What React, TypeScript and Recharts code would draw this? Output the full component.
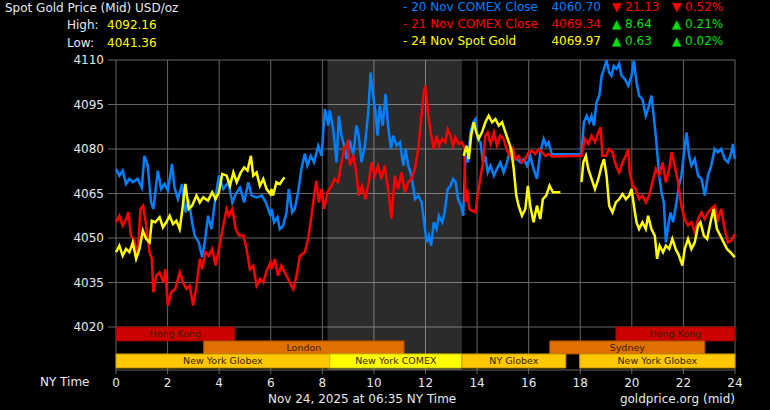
import React from 'react';
import {
  LineChart,
  Line,
  XAxis,
  YAxis,
  CartesianGrid,
  ReferenceArea,
} from 'recharts';

// [NY hour, price] pairs
const nov20Comex: [number, number][] = [
  [0, 4073.3], [0.13, 4071], [0.26, 4072.7], [0.39, 4068.2], [0.52, 4069.9], [0.65, 4068.8], [0.84, 4070], [1.0, 4067],
  [1.1, 4077.7], [1.23, 4074.4], [1.36, 4062], [1.45, 4059.8], [1.62, 4072.7], [1.75, 4066.5], [1.88, 4068.2], [2.01, 4066],
  [2.17, 4075], [2.27, 4067], [2.4, 4063.1], [2.56, 4068.2], [2.69, 4058.6], [2.82, 4063], [2.95, 4055.3], [3.05, 4050.8],
  [3.21, 4048.5], [3.34, 4043.5], [3.44, 4048.5], [3.57, 4057.5], [3.7, 4053], [3.83, 4062], [3.99, 4071], [4.16, 4066.5],
  [4.35, 4068.8], [4.51, 4062], [4.64, 4064.8], [4.81, 4067], [4.97, 4062], [5.13, 4068.8], [5.26, 4064.3], [5.45, 4063.7],
  [5.65, 4064.3], [5.81, 4062], [5.99, 4057.5], [6.03, 4059.8], [6.13, 4055.3], [6.26, 4057], [6.35, 4053], [6.48, 4054.2],
  [6.61, 4058.6], [6.7, 4066.5], [6.83, 4058.6], [6.93, 4059.8], [7.06, 4065.4], [7.19, 4073.3], [7.32, 4078.4], [7.42, 4074.4],
  [7.55, 4077.7], [7.68, 4075.5], [7.84, 4081.1], [7.97, 4077.7], [8.1, 4093.5], [8.23, 4087.9], [8.29, 4093], [8.42, 4086.7],
  [8.55, 4075.5], [8.64, 4091.2], [8.74, 4084.5], [8.85, 4081.1], [8.94, 4076.6], [9.07, 4082.8], [9.2, 4077.7], [9.32, 4087.9],
  [9.41, 4084.5], [9.52, 4075.5], [9.65, 4081.1], [9.78, 4092.4], [9.87, 4105.8], [9.97, 4098], [10.06, 4092.4], [10.14, 4084.5],
  [10.23, 4094.6], [10.34, 4087.9], [10.45, 4098.5], [10.55, 4087.9], [10.66, 4080], [10.75, 4084.5], [10.88, 4081.1], [11.01, 4082.3],
  [11.14, 4074.4], [11.23, 4080], [11.33, 4074.4], [11.46, 4071], [11.59, 4063.1], [11.72, 4064.3], [11.85, 4062], [11.98, 4053],
  [12.04, 4048.5], [12.13, 4050.8], [12.22, 4047.4], [12.32, 4055.3], [12.43, 4053], [12.52, 4057.5], [12.65, 4055.3], [12.74, 4058.6],
  [12.86, 4066.5], [12.97, 4067.6], [13.07, 4069.9], [13.17, 4068.8], [13.26, 4063.1], [13.38, 4060.9], [13.46, 4057.5], [13.55, 4077.7],
  [13.64, 4075.5], [13.74, 4085.6], [13.85, 4089], [13.94, 4090.1], [14.03, 4083.4], [14.13, 4082.3], [14.23, 4075.5], [14.32, 4077.7],
  [14.41, 4072.1], [14.52, 4074.4], [14.65, 4071], [14.77, 4073.3], [14.9, 4075.5], [15.03, 4072.1], [15.16, 4075.5], [15.29, 4080],
  [15.42, 4077.7], [15.55, 4076.6], [15.68, 4075.5], [15.81, 4076.6], [15.94, 4074.4], [16.06, 4077.7], [16.19, 4073.3], [16.32, 4069.9],
  [16.45, 4078.9], [16.58, 4083.4], [16.68, 4081.1], [16.77, 4082.3], [16.9, 4078.2], [18.05, 4078.3], [18.14, 4089], [18.25, 4091.2],
  [18.35, 4089], [18.44, 4091.2], [18.53, 4087.9], [18.63, 4095.7], [18.74, 4098], [18.83, 4104.7], [18.92, 4107], [19.02, 4109.8],
  [19.12, 4105.8], [19.21, 4104.7], [19.3, 4108], [19.41, 4107], [19.51, 4108.7], [19.6, 4104.7], [19.73, 4103.6], [19.86, 4101.3],
  [19.99, 4104.7], [20.08, 4109.8], [20.18, 4102.5], [20.28, 4098], [20.41, 4096.8], [20.54, 4091.2], [20.63, 4093.5], [20.76, 4098],
  [20.85, 4091.2], [20.95, 4082.3], [21.06, 4071], [21.15, 4065.4], [21.24, 4062], [21.32, 4048.5], [21.41, 4054.2], [21.5, 4058.6],
  [21.6, 4055.3], [21.73, 4062], [21.83, 4067.6], [21.92, 4071], [22.01, 4077.7], [22.12, 4085.6], [22.22, 4077.7], [22.31, 4074.4],
  [22.44, 4076.6], [22.57, 4071], [22.7, 4069.9], [22.83, 4064.3], [22.95, 4071], [23.08, 4074.4], [23.21, 4080], [23.34, 4078.9],
  [23.47, 4080], [23.6, 4076.6], [23.73, 4075.5], [23.86, 4078.9], [23.92, 4081.7], [23.99, 4076.6],
];

const nov21Comex: [number, number][] = [
  [0, 4055.3], [0.13, 4057.5], [0.26, 4054.2], [0.39, 4056.4], [0.48, 4058.7], [0.58, 4050.8], [0.71, 4049.1], [0.84, 4044],
  [0.95, 4059.8], [1.05, 4060.9], [1.17, 4054.2], [1.3, 4045.2], [1.39, 4043], [1.45, 4031.7], [1.56, 4037.3], [1.69, 4038.4],
  [1.84, 4035], [1.91, 4039.5], [2.01, 4027.2], [2.14, 4031.7], [2.3, 4032.8], [2.47, 4038.4], [2.6, 4035], [2.73, 4032.8],
  [2.86, 4033.9], [2.99, 4027.2], [3.12, 4033.9], [3.25, 4043], [3.34, 4039.5], [3.47, 4045.2], [3.6, 4044], [3.73, 4046.3],
  [3.86, 4040.7], [3.99, 4046.3], [4.16, 4054.2], [4.29, 4059.8], [4.38, 4057.5], [4.51, 4059.8], [4.64, 4053], [4.77, 4050.8],
  [4.94, 4050.8], [5.06, 4046.3], [5.19, 4039.5], [5.32, 4040.6], [5.45, 4033.9], [5.58, 4036.2], [5.71, 4035], [5.84, 4039],
  [5.99, 4041.8], [6.03, 4039.5], [6.16, 4042.9], [6.28, 4037.3], [6.41, 4040.7], [6.54, 4038.4], [6.67, 4036.2], [6.87, 4032.8],
  [7.0, 4037.3], [7.13, 4044], [7.32, 4045.2], [7.45, 4049.7], [7.58, 4057.5], [7.68, 4064.3], [7.77, 4069.3], [7.86, 4062],
  [7.97, 4066.5], [8.07, 4059.8], [8.2, 4065.4], [8.36, 4067.6], [8.48, 4069.9], [8.61, 4068.8], [8.72, 4074.4], [8.85, 4080],
  [8.98, 4082.3], [9.07, 4074.4], [9.2, 4077.7], [9.32, 4072.1], [9.41, 4064.3], [9.54, 4067.6], [9.67, 4063.1], [9.8, 4068.8],
  [9.91, 4075.5], [10.03, 4071], [10.16, 4074.4], [10.29, 4069.9], [10.42, 4074.4], [10.55, 4066.5], [10.68, 4056.4], [10.81, 4071],
  [10.94, 4066.5], [11.07, 4072.1], [11.2, 4065.4], [11.33, 4068.8], [11.46, 4069.9], [11.59, 4073.3], [11.72, 4080], [11.82, 4089],
  [11.93, 4099.1], [12.0, 4101.3], [12.11, 4091.2], [12.13, 4090.1], [12.22, 4084.5], [12.32, 4080], [12.43, 4084.5], [12.52, 4081.1],
  [12.65, 4083.4], [12.77, 4082.3], [12.86, 4086.7], [12.97, 4084.5], [13.07, 4081.1], [13.16, 4083.9], [13.29, 4081.7], [13.42, 4082.3],
  [13.51, 4080], [13.55, 4062], [13.61, 4066.5], [13.7, 4059.8], [13.81, 4059.2], [13.94, 4058.7], [14.0, 4063.1], [14.1, 4068.8],
  [14.23, 4075.5], [14.32, 4084.5], [14.41, 4085.6], [14.52, 4081.7], [14.65, 4085.6], [14.77, 4081.1], [14.9, 4084.5], [15.03, 4083.4],
  [15.14, 4080], [15.27, 4077.7], [15.39, 4080], [15.48, 4076.6], [15.61, 4077.7], [15.74, 4075.5], [15.87, 4076.6], [16.0, 4078.9],
  [16.13, 4079.4], [16.26, 4078.3], [16.39, 4080], [16.52, 4078.9], [16.65, 4077.7], [16.77, 4078.3], [16.9, 4077.5], [18.05, 4077.7],
  [18.18, 4083.4], [18.31, 4081.7], [18.44, 4084.5], [18.57, 4082.3], [18.7, 4085.6], [18.79, 4087.3], [18.86, 4077.7], [18.99, 4077.7],
  [19.12, 4080], [19.25, 4078.9], [19.38, 4074.4], [19.51, 4072.1], [19.64, 4075.5], [19.77, 4077.7], [19.86, 4080], [19.92, 4072.1],
  [20.03, 4067.6], [20.15, 4066.5], [20.28, 4063.1], [20.41, 4064.3], [20.54, 4062], [20.67, 4064.3], [20.8, 4068.8], [20.93, 4073.3],
  [21.06, 4071], [21.19, 4075.5], [21.32, 4068.8], [21.45, 4073.3], [21.54, 4078.9], [21.66, 4074.4], [21.79, 4068.8], [21.92, 4060.9],
  [22.05, 4056.4], [22.18, 4054.2], [22.31, 4055.3], [22.44, 4052], [22.57, 4056.4], [22.7, 4058.6], [22.83, 4056.4], [22.95, 4058.6],
  [23.08, 4059.8], [23.21, 4060.9], [23.34, 4056.4], [23.47, 4059.8], [23.6, 4053], [23.73, 4048.5], [23.86, 4049.1], [23.99, 4051.3],
];

const nov24Spot: [number, number | null][] = [
  [0, 4045.2], [0.13, 4047.4], [0.26, 4044], [0.39, 4046.3], [0.52, 4045.2], [0.65, 4048.5], [0.78, 4043], [0.91, 4046.3],
  [1.04, 4052.5], [1.17, 4049.7], [1.3, 4048.5], [1.39, 4055.8], [1.52, 4055.3], [1.69, 4057], [1.82, 4053.6], [1.95, 4055.3],
  [2.08, 4057.5], [2.21, 4054.7], [2.34, 4055.8], [2.47, 4053], [2.56, 4058.7], [2.69, 4068.2], [2.82, 4059.8], [2.95, 4060.9],
  [3.12, 4064.3], [3.25, 4062], [3.38, 4063.7], [3.57, 4062.6], [3.73, 4065.4], [3.86, 4063.1], [3.99, 4065.4], [4.12, 4071.6],
  [4.29, 4071], [4.42, 4067.6], [4.55, 4072.1], [4.68, 4068.8], [4.84, 4072.1], [4.97, 4073.8], [5.1, 4072.7], [5.23, 4077.7],
  [5.32, 4071], [5.45, 4072.1], [5.58, 4067.6], [5.71, 4069.9], [5.84, 4066.5], [5.99, 4064.8], [6.03, 4066.5], [6.09, 4064.3],
  [6.22, 4068.8], [6.35, 4068.2], [6.48, 4069.9], [6.54, 4070.4], [10, null],
  [13.48, 4077.7], [13.59, 4081.1], [13.68, 4076.6], [13.77, 4084.5], [13.87, 4089], [13.97, 4085.6], [14.06, 4083.4], [14.19, 4085.6],
  [14.32, 4089], [14.45, 4091.2], [14.58, 4089], [14.71, 4090.1], [14.84, 4087.9], [14.97, 4089], [15.1, 4085.6], [15.23, 4082.3],
  [15.32, 4080], [15.42, 4073.3], [15.52, 4064.3], [15.61, 4060.9], [15.74, 4057.5], [15.87, 4059.8], [15.97, 4067.6], [16.06, 4060.9],
  [16.19, 4055.3], [16.32, 4060.9], [16.45, 4056.4], [16.55, 4063.1], [16.68, 4064.3], [16.81, 4067.6], [16.94, 4065.4], [17.07, 4065.4],
  [17.23, 4065.4], [17.6, null],
  [18.05, 4068.8], [18.12, 4075.5], [18.22, 4077.7], [18.31, 4073.3], [18.44, 4069.9], [18.57, 4066.5], [18.7, 4069.9], [18.83, 4074.4],
  [18.92, 4076.6], [19.02, 4071], [19.12, 4060.9], [19.25, 4058.6], [19.38, 4062], [19.51, 4063.1], [19.64, 4064.8], [19.77, 4063.1],
  [19.9, 4064.3], [19.99, 4066.5], [20.08, 4060.9], [20.18, 4055.3], [20.28, 4053], [20.41, 4055.3], [20.54, 4053], [20.63, 4057.5],
  [20.76, 4053], [20.89, 4050.8], [20.98, 4043], [21.08, 4047.4], [21.21, 4045.2], [21.32, 4047.4], [21.45, 4046.3], [21.57, 4049.7],
  [21.7, 4046.3], [21.83, 4044], [21.96, 4040.7], [22.05, 4046.3], [22.18, 4049.7], [22.31, 4046.3], [22.44, 4048.5], [22.57, 4054.2],
  [22.66, 4055.3], [22.79, 4050.8], [22.92, 4049.7], [23.05, 4055.3], [23.17, 4059.8], [23.3, 4053], [23.43, 4050.8], [23.56, 4048.5],
  [23.69, 4046.3], [23.82, 4045.2], [23.99, 4043.5],
];

const xTicks = [0, 2, 4, 6, 8, 10, 12, 14, 16, 18, 20, 22, 24];
const yTicks = [4020, 4035, 4050, 4065, 4080, 4095, 4110];

// trading sessions along the bottom
const sessionNames = ['Hong Kong', 'Hong Kong', 'London', 'Sydney', 'New York Globex', 'New York COMEX', 'NY Globex', 'New York Globex'];
const sessionStart = [0, 19.38, 3.4, 16.82, 0, 8.29, 13.41, 17.98];
const sessionEnd = [4.6, 24, 11.17, 22.83, 8.29, 13.41, 17.44, 24];
const sessionRow = [0, 0, 1, 1, 2, 2, 2, 2];
const comexShade = [8.2, 13.41];

const rowBands = [
  [4020, 4015.3],
  [4015.3, 4010.9],
  [4010.9, 4006.2],
];

const sessionFill = (name: string) => {
  if (name === 'Hong Kong') return ['#cc0000', '#990000'];
  if (name === 'London' || name === 'Sydney') return ['#e07000', '#a85000'];
  if (name === 'New York COMEX') return ['#ffff00', '#c8c800'];
  return ['#ffc800', '#c89400'];
};

const toPoints = (arr: [number, number | null][]) => arr.map(([h, v]) => ({ h, v }));

const FONT = '"DejaVu Sans", Verdana, sans-serif';

const txt = (style: React.CSSProperties): React.CSSProperties => ({
  position: 'absolute',
  fontFamily: FONT,
  fontSize: 12,
  lineHeight: '14px',
  whiteSpace: 'nowrap',
  ...style,
});

const BLUE = '#0080ff';
const RED = '#ff0000';
const YELLOW = '#ffff00';
const GREEN = '#00e000';
const WHITE = '#e8e8e8';

export default function App() {
  return (
    <div style={{ position: 'fixed', left: 0, top: 0, width: 770, height: 410, background: '#000', overflow: 'hidden' }}>
      <LineChart width={770} height={410} margin={{ top: 60, right: 35, bottom: 0, left: 0 }}>
        <CartesianGrid stroke="#666" strokeWidth={1} />
        <ReferenceArea x1={comexShade[0]} x2={comexShade[1]} y1={4005.5} y2={4110} fill="#ffffff" fillOpacity={0.17} stroke="none" />
        <XAxis
          type="number"
          dataKey="h"
          domain={[0, 24]}
          ticks={xTicks}
          axisLine={false}
          tickLine={{ stroke: '#666' }}
          tickSize={4}
          tickMargin={4}
          height={40}
          tick={{ fill: WHITE, fontSize: 12, fontFamily: FONT }}
          allowDuplicatedCategory={false}
        />
        <YAxis
          type="number"
          domain={[4005.5, 4110]}
          ticks={yTicks}
          width={116}
          axisLine={false}
          tickLine={{ stroke: '#666' }}
          tickSize={8}
          tickMargin={4}
          tick={{ fill: WHITE, fontSize: 12, fontFamily: FONT }}
          allowDataOverflow
        />
        {sessionNames.map((name, i) => {
          const [fill, border] = sessionFill(name);
          const band = rowBands[sessionRow[i]];
          return (
            <ReferenceArea
              key={i}
              x1={sessionStart[i]}
              x2={sessionEnd[i]}
              y1={band[0]}
              y2={band[1]}
              fill={fill}
              fillOpacity={1}
              stroke={border}
              strokeWidth={1}
              label={{ value: name, position: 'center', fill: '#3a2000', fontSize: 9.5, fontFamily: FONT }}
            />
          );
        })}
        <Line data={toPoints(nov20Comex)} dataKey="v" stroke={BLUE} strokeWidth={2.5} dot={false} type="linear" isAnimationActive={false} />
        <Line data={toPoints(nov21Comex)} dataKey="v" stroke={RED} strokeWidth={2.5} dot={false} type="linear" isAnimationActive={false} />
        <Line data={toPoints(nov24Spot)} dataKey="v" stroke={YELLOW} strokeWidth={2.5} dot={false} type="linear" isAnimationActive={false} />
      </LineChart>

      <div style={txt({ left: 5, top: 1, color: WHITE })}>Spot Gold Price (Mid) USD/oz</div>
      <div style={txt({ left: 67, top: 18, color: WHITE })}>High:</div>
      <div style={txt({ left: 107, top: 18, color: YELLOW })}>4092.16</div>
      <div style={txt({ left: 67, top: 36, color: WHITE })}>Low:</div>
      <div style={txt({ left: 107, top: 36, color: YELLOW })}>4041.36</div>

      <div style={txt({ left: 403, top: 0, color: BLUE })}>- 20 Nov COMEX Close</div>
      <div style={txt({ right: 169, top: 0, color: BLUE, textAlign: 'right' })}>4060.70</div>
      <div style={txt({ left: 612, top: 0, color: RED })}>▼ 21.13</div>
      <div style={txt({ left: 672, top: 0, color: RED })}>▼ 0.52%</div>

      <div style={txt({ left: 403, top: 17, color: RED })}>- 21 Nov COMEX Close</div>
      <div style={txt({ right: 169, top: 17, color: RED, textAlign: 'right' })}>4069.34</div>
      <div style={txt({ left: 612, top: 17, color: GREEN })}>▲ 8.64</div>
      <div style={txt({ left: 672, top: 17, color: GREEN })}>▲ 0.21%</div>

      <div style={txt({ left: 403, top: 34, color: YELLOW })}>- 24 Nov Spot Gold</div>
      <div style={txt({ right: 169, top: 34, color: YELLOW, textAlign: 'right' })}>4069.97</div>
      <div style={txt({ left: 612, top: 34, color: GREEN })}>▲ 0.63</div>
      <div style={txt({ left: 672, top: 34, color: GREEN })}>▲ 0.02%</div>

      <div style={txt({ left: 40, top: 375, color: WHITE })}>NY Time</div>
      <div style={txt({ left: 268, top: 392, color: WHITE })}>Nov 24, 2025 at 06:35 NY Time</div>
      <div style={txt({ right: 35, top: 392, color: WHITE, textAlign: 'right' })}>goldprice.org (mid)</div>
    </div>
  );
}
